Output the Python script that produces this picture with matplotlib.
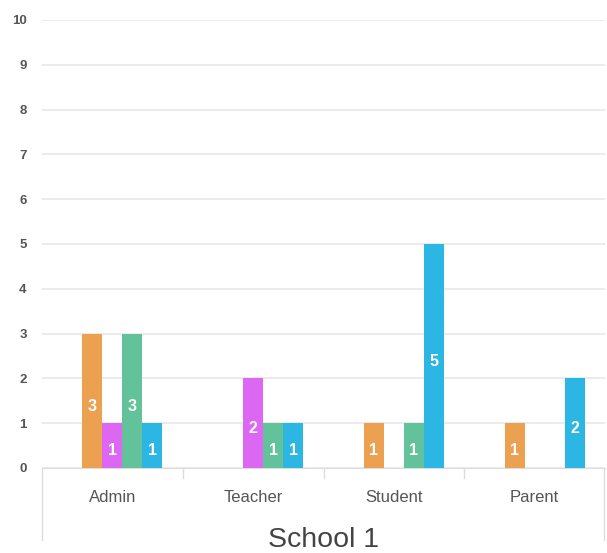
import matplotlib.pyplot as plt
import numpy as np
from matplotlib.lines import Line2D

categories = ['Admin', 'Teacher', 'Student', 'Parent']
# five response groups; the first one has no answers in this school
series_none = [0, 0, 0, 0]
series_orange = [3, 0, 1, 1]
series_purple = [1, 2, 0, 0]
series_green = [3, 1, 1, 0]
series_blue = [1, 1, 5, 2]
colors = ['#cccccc', '#EBA150', '#DC67F3', '#62C39A', '#2BB6E3']
title = 'School 1'

all_series = [series_none, series_orange, series_purple, series_green, series_blue]

plt.rcParams['font.family'] = ['Liberation Sans', 'DejaVu Sans']

fig = plt.figure(figsize=(6.07, 5.53), dpi=100)
ax = fig.add_axes([42 / 607, 85 / 553, 563 / 607, 448 / 553])

x = np.arange(len(categories))
slot = 0.142
for i, (vals, c) in enumerate(zip(all_series, colors)):
    pos = x - slot * len(all_series) / 2 + slot * (i + 0.5)
    bars = ax.bar(pos, vals, width=slot, color=c, zorder=3)
    for b, v in zip(bars, vals):
        if v > 0:
            ax.text(b.get_x() + b.get_width() / 2, v / 2 - 0.12, str(v), color='white',
                    ha='center', va='center', fontsize=11.5, fontweight='bold', zorder=4)

ax.set_xlim(-0.5, len(categories) - 0.5)
ax.set_ylim(0, 10)
ax.set_yticks(range(0, 11))
ax.grid(axis='y', color='#e8e8e8', linewidth=1.2, zorder=0)
for s in ['top', 'right', 'left']:
    ax.spines[s].set_visible(False)
ax.spines['bottom'].set_color('#dddddd')
ax.tick_params(axis='y', length=0, pad=11, labelsize=9.5, labelcolor='#555555')
for lbl in ax.get_yticklabels():
    lbl.set_fontweight('bold')
ax.set_xticks(x)
ax.set_xticklabels(categories, fontsize=12, color='#555555')
ax.tick_params(axis='x', length=0, pad=16)

# category separators and the frame around the label area
for k in range(1, len(categories)):
    xf = (42 + 140.75 * k) / 607
    fig.add_artist(Line2D([xf, xf], [75 / 553, 85 / 553], color='#dddddd', lw=1))
fig.add_artist(Line2D([42 / 607, 42 / 607], [13 / 553, 85 / 553], color='#dddddd', lw=1))
fig.add_artist(Line2D([604 / 607, 604 / 607], [13 / 553, 85 / 553], color='#dddddd', lw=1))

fig.text(323 / 607, 13 / 553, title, fontsize=20.5, color='#444444', ha='center', va='center')

fig.savefig('out.png', dpi=100)
